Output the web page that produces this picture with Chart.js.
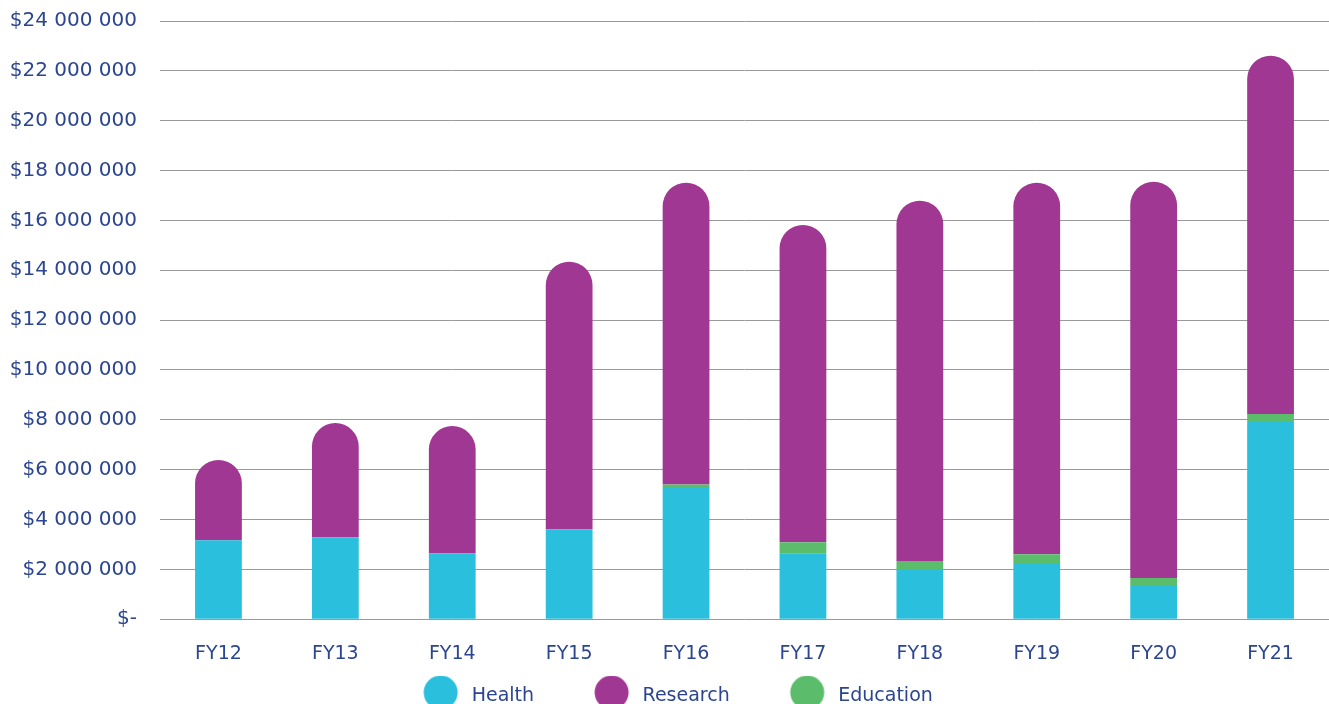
<!DOCTYPE html>
<html>
<head>
<meta charset="utf-8">
<script src="https://cdn.jsdelivr.net/npm/chart.js@4/dist/chart.umd.min.js"></script>
<style>
html,body{margin:0;padding:0;background:#fff;overflow:hidden;}
#wrap{width:1329px;height:716px;position:relative;}
</style>
</head>
<body>
<div id="wrap"><canvas id="c"></canvas></div>
<script>
const categories = ['FY12','FY13','FY14','FY15','FY16','FY17','FY18','FY19','FY20','FY21'];
const health    = [3170000, 3290000, 2650000, 3610000, 5300000, 2650000, 2000000, 2250000, 1330000, 7910000];
const education = [0, 0, 0, 0, 100000, 440000, 330000, 360000, 320000, 320000];
const research  = [3220000, 4580000, 5100000, 10730000, 12110000, 12730000, 14460000, 14900000, 15900000, 14380000];
const yTicks = [0, 2000000, 4000000, 6000000, 8000000, 10000000, 12000000, 14000000, 16000000, 18000000, 20000000, 22000000, 24000000];

const textColor = '#2b4590';
const fontFamily = '"DejaVu Sans", sans-serif';
const fontWeight = 'normal';

function fmt(v){
  if (v === 0) return '$-';
  return '$' + String(v).replace(/\B(?=(\d{3})+(?!\d))/g, ' ');
}
const BOXW = 92;
const LEGEND_SHIFT = -18;
function dot(color){
  const c = document.createElement('canvas');
  c.width = BOXW; c.height = 42;
  const x = c.getContext('2d');
  x.fillStyle = color;
  x.beginPath(); x.arc(BOXW - 21.5, 17, 17, 0, Math.PI*2); x.fill();
  return c;
}
const colors = {Health:'#29bfdd', Research:'#a03792', Education:'#5bbd6b'};
const legendOrder = ['Health','Research','Education'];

const legendShift = {
  id: 'legendShift',
  afterLayout(chart){
    const lg = chart.legend;
    if (!lg) return;
    lg.left += LEGEND_SHIFT; lg.right += LEGEND_SHIFT;
    if (!lg._noClip) {
      lg._noClip = true;
      lg.draw = function(){ if (this.options.display) { this.ctx.save(); this._draw(); this.ctx.restore(); } };
    }
  }
};

new Chart(document.getElementById('c'), {
  type: 'bar',
  plugins: [legendShift],
  data: {
    labels: categories,
    datasets: [
      {label:'Health', data: health, backgroundColor: colors.Health, borderWidth:0, pointStyle: dot(colors.Health)},
      {label:'Education', data: education, backgroundColor: colors.Education, borderWidth:0, pointStyle: dot(colors.Education)},
      {label:'Research', data: research, backgroundColor: colors.Research, borderWidth:0,
       borderSkipped:false, borderRadius:{topLeft:999, topRight:999, bottomLeft:0, bottomRight:0}, pointStyle: dot(colors.Research)}
    ]
  },
  options: {
    responsive: true,
    maintainAspectRatio: false,
    animation: false,
    layout: {padding: {left: 10, right: 0, top: 0, bottom: 0}},
    datasets: {bar: {barPercentage: 0.4, categoryPercentage: 1.0}},
    plugins: {
      tooltip: {enabled:false},
      legend: {
        position: 'bottom',
        labels: {
          usePointStyle: true,
          boxWidth: BOXW, boxHeight: 19,
          pointStyleWidth: BOXW,
          color: textColor,
          font: {family: fontFamily, size: 19, weight: fontWeight},
          padding: 7,
          sort: (a,b) => legendOrder.indexOf(a.text) - legendOrder.indexOf(b.text)
        }
      }
    },
    scales: {
      x: {
        stacked: true,
        grid: {display: false},
        border: {display: false},
        ticks: {color: textColor, font: {family: fontFamily, size: 19, weight: fontWeight}, padding: 15}
      },
      y: {
        stacked: true,
        min: 0, max: 24000000,
        afterBuildTicks: (axis) => { axis.ticks = yTicks.map(v => ({value: v})); },
        afterFit: (axis) => { axis.width = 150; axis.paddingTop = 21; axis.paddingBottom = 0; },
        grid: {color: '#9a9a9a', lineWidth: 1, drawTicks: false},
        border: {display: false},
        ticks: {color: textColor, font: {family: fontFamily, size: 20, weight: fontWeight}, padding: 23, callback: (v) => fmt(v)}
      }
    }
  }
});
</script>
</body>
</html>
